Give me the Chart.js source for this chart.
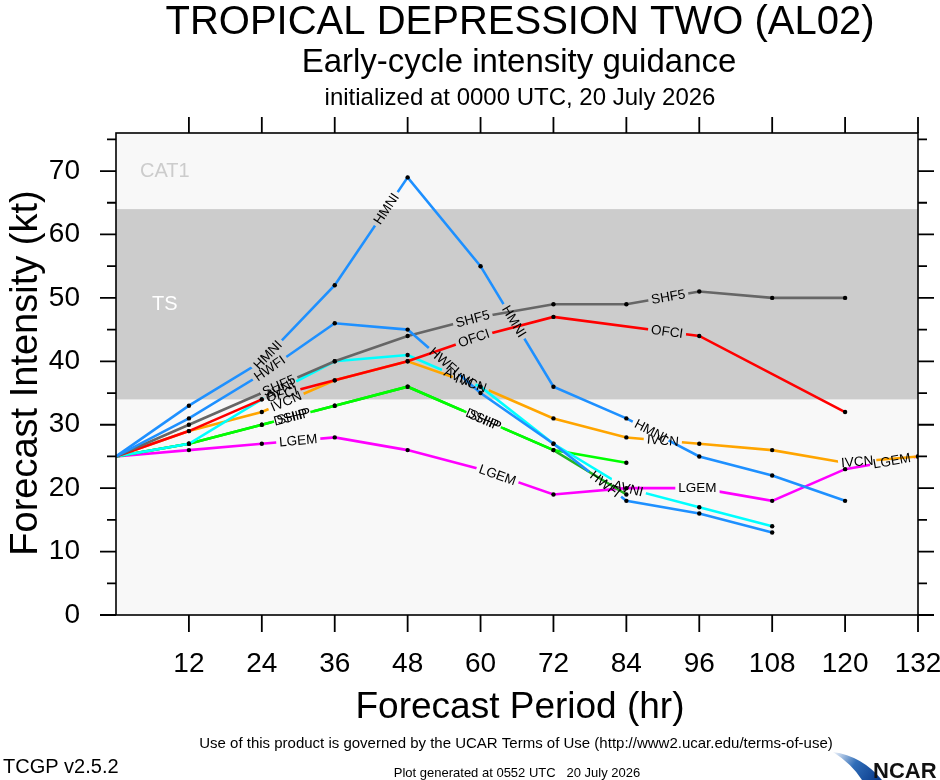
<!DOCTYPE html>
<html><head><meta charset="utf-8">
<script src="https://cdn.jsdelivr.net/npm/chart.js@4"></script>
<style>html,body{margin:0;padding:0;background:#fff}canvas{display:block}</style>
</head><body>
<canvas id="c" width="940" height="780"></canvas>
<script>
// ---------- data ----------
const hours = [0, 12, 24, 36, 48, 60, 72, 84, 96, 108, 120, 132];
const HMNI = [25, 33, 40, 52, 69, 55, 36, 31, 25, 22, 18, null];
const HWFI = [25, 31, 38, 46, 45, 35, 27, 18, 16, 13, null, null];
const SHF5 = [25, 30, 35, 40, 44, 47, 49, 49, 51, 50, 50, null];
const OFCI = [25, 29, 34, 37, 40, 44, 47, null, 44, null, 32, null];
const IVCN = [25, 29, 32, 37, 40, 36, 31, 28, 27, 26, 24, 25];
const AVNI = [25, 27, 34, 40, 41, 36, 27, 20, 17, 14, null, null];
const SHIP = [25, 27, 30, 33, 36, 31, 26, 24, null, null, null, null];
const DSHP = [25, 27, 30, 33, 36, 31, 26, 19, null, null, null, null];
const LGEM = [25, 26, 27, 28, 26, 23, 19, 20, 20, 18, 23, 25];

const xTickValues = [12, 24, 36, 48, 60, 72, 84, 96, 108, 120, 132];
const yLabelValues = [0, 10, 20, 30, 40, 50, 60, 70];
const yMinorValues = [5, 15, 25, 35, 45, 55, 65, 75];
const tsBand = [34, 64];

// ---------- presentation ----------
const FONT = '"Liberation Sans", Arial, Helvetica, sans-serif';
const series = [
  { name: 'HMNI', values: HMNI, color: '#1e90ff' },
  { name: 'HWFI', values: HWFI, color: '#1e90ff' },
  { name: 'SHF5', values: SHF5, color: '#666666' },
  { name: 'OFCI', values: OFCI, color: '#ff0000' },
  { name: 'AVNI', values: AVNI, color: '#00ffff' },
  { name: 'IVCN', values: IVCN, color: '#ffa500' },
  { name: 'SHIP', values: SHIP, color: '#00ff00' },
  { name: 'DSHP', values: DSHP, color: '#22b522' },
  { name: 'LGEM', values: LGEM, color: '#ff00ff' }
];
// where (in forecast hours) each model name is written along its line
const labelSpots = [
  ['HMNI', 25], ['HMNI', 44.5], ['HMNI', 65.5], ['HMNI', 88],
  ['HWFI', 25.3], ['HWFI', 54], ['HWFI', 80.5],
  ['SHF5', 26.8], ['SHF5', 58.7], ['SHF5', 90.9],
  ['OFCI', 27.3], ['OFCI', 58.9], ['OFCI', 90.7],
  ['IVCN', 28], ['IVCN', 58.4], ['IVCN', 90], ['IVCN', 122],
  ['AVNI', 27], ['AVNI', 56.4], ['AVNI', 84.3],
  ['SHIP', 29], ['SHIP', 60.5],
  ['DSHP', 29], ['DSHP', 60.5],
  ['LGEM', 30], ['LGEM', 62.8], ['LGEM', 95.7], ['LGEM', 127.7]
];
const LABEL_FONT = '13.5px ' + FONT;

function toPoints(arr) {
  return hours.map((h, i) => ({ x: h, y: arr[i] })).filter(p => p.y !== null);
}

const datasets = series.map(s => ({
  label: s.name,
  data: toPoints(s.values),
  borderColor: s.color,
  backgroundColor: '#000',
  borderWidth: 2.6,
  pointRadius: ctx => (ctx.raw && ctx.raw.x === 0) ? 0 : 2.2,
  pointBackgroundColor: '#000',
  pointBorderWidth: 0,
  tension: 0,
  fill: false,
  spanGaps: true
}));

function spotGeometry(chart, name, h) {
  const ds = chart.data.datasets.find(d => d.label === name);
  const xs = chart.scales.x, ys = chart.scales.y;
  const pts = ds.data;
  for (let i = 0; i < pts.length - 1; i++) {
    const a = pts[i], b = pts[i + 1];
    if (h >= a.x && h <= b.x) {
      const t = (h - a.x) / (b.x - a.x);
      const v = a.y + t * (b.y - a.y);
      const ax = xs.getPixelForValue(a.x), ay = ys.getPixelForValue(a.y);
      const bx = xs.getPixelForValue(b.x), by = ys.getPixelForValue(b.y);
      return { x: xs.getPixelForValue(h), y: ys.getPixelForValue(v), ang: Math.atan2(by - ay, bx - ax) };
    }
  }
  return null;
}

const tcgpPlugin = {
  id: 'tcgp',
  beforeDatasetsDraw(chart) {
    const { ctx, chartArea: ca, scales: { y } } = chart;
    ctx.save();
    ctx.fillStyle = '#f8f8f8';
    ctx.fillRect(ca.left, ca.top, ca.right - ca.left, ca.bottom - ca.top);
    const yTop = y.getPixelForValue(tsBand[1]), yBot = y.getPixelForValue(tsBand[0]);
    ctx.fillStyle = '#cccccc';
    ctx.fillRect(ca.left, yTop, ca.right - ca.left, yBot - yTop);
    ctx.font = '20px ' + FONT;
    ctx.textBaseline = 'middle';
    ctx.textAlign = 'left';
    ctx.fillStyle = '#cccccc';
    ctx.fillText('CAT1', ca.left + 24, y.getPixelForValue(70));
    ctx.fillStyle = '#ffffff';
    ctx.fillText('TS', ca.left + 36, y.getPixelForValue(49));
    ctx.restore();
  },
  beforeDatasetDraw(chart, args) {
    const ctx = chart.ctx;
    const name = chart.data.datasets[args.index].label;
    ctx.save();
    ctx.font = LABEL_FONT;
    ctx.beginPath();
    ctx.rect(0, 0, chart.width, chart.height);
    labelSpots.filter(s => s[0] === name).forEach(s => {
      const g = spotGeometry(chart, s[0], s[1]);
      if (!g) return;
      const w = ctx.measureText(s[0]).width / 2 + 3, hh = 7;
      const c = Math.cos(g.ang), sn = Math.sin(g.ang);
      const corners = [[-w, -hh], [w, -hh], [w, hh], [-w, hh]].map(([px, py]) => [g.x + px * c - py * sn, g.y + px * sn + py * c]);
      ctx.moveTo(corners[0][0], corners[0][1]);
      for (let k = 1; k < 4; k++) ctx.lineTo(corners[k][0], corners[k][1]);
      ctx.closePath();
    });
    ctx.clip('evenodd');
  },
  afterDatasetDraw(chart) {
    chart.ctx.restore();
  },
  afterDatasetsDraw(chart) {
    const { ctx, chartArea: ca, scales: { x, y } } = chart;
    ctx.save();
    // labels along lines
    ctx.font = LABEL_FONT;
    ctx.fillStyle = '#000';
    ctx.textAlign = 'center';
    ctx.textBaseline = 'middle';
    labelSpots.forEach(s => {
      const g = spotGeometry(chart, s[0], s[1]);
      if (!g) return;
      ctx.save();
      ctx.translate(g.x, g.y);
      ctx.rotate(g.ang);
      ctx.fillText(s[0], 0, 0.5);
      ctx.restore();
    });
    // frame
    ctx.strokeStyle = '#000';
    ctx.lineWidth = 1.6;
    ctx.strokeRect(ca.left, ca.top, ca.right - ca.left, ca.bottom - ca.top);
    // ticks
    ctx.lineWidth = 1.8;
    ctx.beginPath();
    xTickValues.forEach(v => {
      const px = x.getPixelForValue(v);
      ctx.moveTo(px, ca.bottom); ctx.lineTo(px, ca.bottom + 17);
      ctx.moveTo(px, ca.top); ctx.lineTo(px, ca.top - 16);
    });
    yLabelValues.forEach(v => {
      const py = y.getPixelForValue(v);
      ctx.moveTo(ca.left, py); ctx.lineTo(ca.left - 16, py);
      ctx.moveTo(ca.right, py); ctx.lineTo(ca.right + 16, py);
    });
    yMinorValues.forEach(v => {
      const py = y.getPixelForValue(v);
      ctx.moveTo(ca.left, py); ctx.lineTo(ca.left - 9, py);
      ctx.moveTo(ca.right, py); ctx.lineTo(ca.right + 9, py);
    });
    ctx.stroke();
    ctx.restore();
  },
  afterDraw(chart) {
    const { ctx } = chart;
    ctx.save();
    ctx.fillStyle = '#000';
    ctx.textAlign = 'center';
    ctx.textBaseline = 'alphabetic';
    ctx.font = '40px ' + FONT;
    ctx.fillText('TROPICAL DEPRESSION TWO (AL02)', 520, 34);
    ctx.font = '33px ' + FONT;
    ctx.fillText('Early-cycle intensity guidance', 519, 72);
    ctx.font = '24px ' + FONT;
    ctx.fillText('initialized at 0000 UTC, 20 July 2026', 520, 105);
    ctx.font = '37px ' + FONT;
    ctx.fillText('Forecast Period (hr)', 520, 718);
    ctx.save();
    ctx.translate(37, 373);
    ctx.rotate(-Math.PI / 2);
    ctx.font = '38px ' + FONT;
    ctx.fillText('Forecast Intensity (kt)', 0, 0);
    ctx.restore();
    ctx.font = '15px ' + FONT;
    ctx.fillText('Use of this product is governed by the UCAR Terms of Use (http://www2.ucar.edu/terms-of-use)', 516, 748);
    ctx.font = '13px ' + FONT;
    ctx.fillText('Plot generated at 0552 UTC   20 July 2026', 517, 777);
    ctx.textAlign = 'left';
    ctx.font = '20px ' + FONT;
    ctx.fillText('TCGP v2.5.2', 3, 773);
    // NCAR logo
    const grad = ctx.createLinearGradient(835, 752, 878, 780);
    grad.addColorStop(0, '#e8eef8');
    grad.addColorStop(0.45, '#2f6db8');
    grad.addColorStop(1, '#0b3c8c');
    ctx.fillStyle = grad;
    ctx.beginPath();
    ctx.moveTo(833, 752);
    ctx.quadraticCurveTo(862, 756, 882, 780);
    ctx.lineTo(862, 780);
    ctx.quadraticCurveTo(852, 764, 833, 752);
    ctx.closePath();
    ctx.fill();
    ctx.fillStyle = '#111';
    ctx.font = 'bold 22px ' + FONT;
    ctx.fillText('NCAR', 873, 778);
    ctx.restore();
  }
};

new Chart(document.getElementById('c'), {
  type: 'line',
  data: { datasets },
  options: {
    responsive: false,
    animation: false,
    devicePixelRatio: 1,
    layout: { padding: { top: 133, right: 22, left: 0, bottom: 0 } },
    plugins: { legend: { display: false }, title: { display: false }, tooltip: { enabled: false } },
    scales: {
      x: {
        type: 'linear', min: 0, max: 132,
        afterFit(s) { s.height = 165; s.paddingLeft = 0; s.paddingRight = 0; },
        afterBuildTicks(s) { s.ticks = xTickValues.map(v => ({ value: v })); },
        ticks: { font: { family: FONT, size: 28 }, color: '#000', padding: 32, maxRotation: 0, autoSkip: false },
        grid: { display: false, drawTicks: false },
        border: { display: false }
      },
      y: {
        type: 'linear', min: 0, max: 76,
        afterFit(s) { s.width = 116; s.paddingTop = 0; s.paddingBottom = 0; },
        afterBuildTicks(s) { s.ticks = yLabelValues.map(v => ({ value: v })); },
        ticks: { font: { family: FONT, size: 28 }, color: '#000', padding: 36 },
        grid: { display: false, drawTicks: false },
        border: { display: false }
      }
    }
  },
  plugins: [tcgpPlugin]
});
</script>
</body></html>
